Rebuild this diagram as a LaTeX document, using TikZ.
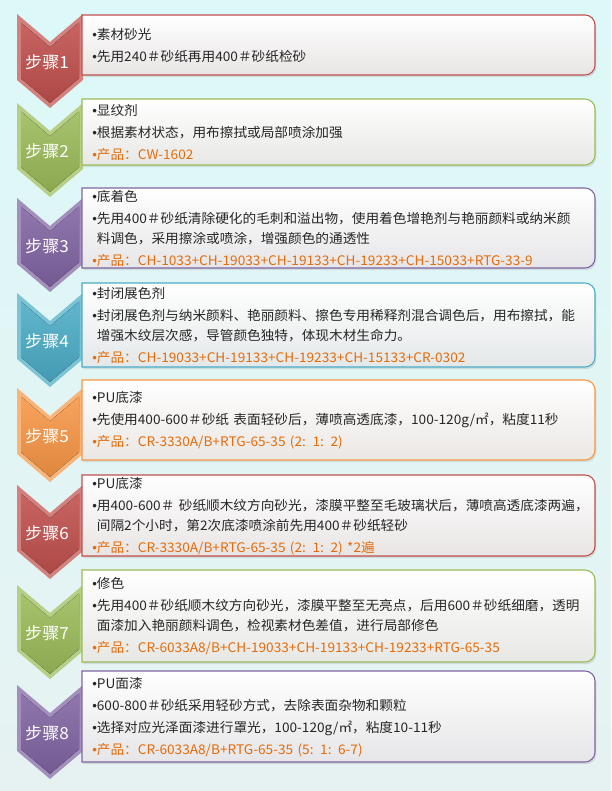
\documentclass[tikz,border=0pt]{standalone}
\usepackage{fontspec}
\setmainfont{Noto Sans CJK SC}[FakeStretch=1.035]
\newfontfamily\bulfont{Liberation Sans}
\usetikzlibrary{shadows}
\definecolor{stepred}{HTML}{C0504D}
\definecolor{stepgreen}{HTML}{9BBB59}
\definecolor{steppurple}{HTML}{8064A2}
\definecolor{stepteal}{HTML}{4BACC6}
\definecolor{steporange}{HTML}{F79646}
\definecolor{prodorange}{HTML}{E46C0A}
\definecolor{textgray}{HTML}{262626}
\definecolor{bgtop}{HTML}{DDF8F8}
\definecolor{bgbot}{HTML}{E6F2F2}
\newcommand{\pxu}{0.75pt}
\newcommand{\bul}{{\bulfont •}}
\newcommand{\chanpin}[1]{{\color{prodorange}\bul 产品：#1}}
\begin{document}
\begin{tikzpicture}[x=0.75pt,y=-0.75pt,
  boxtext/.style={anchor=north west, align=left, inner xsep=10*\pxu, inner ysep=0pt,
    text width=505*\pxu, minimum width=513*\pxu, text=textgray,
    font=\fontsize{9.9pt}{15pt}\selectfont},
  boxline/.style={draw=#1, line width=0.8pt, top color=white, bottom color=#1!4!white!92!black,
    drop shadow={opacity=0.2, shadow xshift=1pt, shadow yshift=-1.6pt}},
  steplabel/.style={text=white, font=\fontsize{12.4pt}{13pt}\selectfont}]
\useasboundingbox (0,0) rectangle (611,791);
\fill[top color=bgtop, bottom color=bgbot] (0,0) rectangle (611,791);
% chevrons
\foreach \n/\col/\t in {1/stepred/14, 2/stepgreen/103, 3/steppurple/198, 4/stepteal/293,
    5/steporange/388, 6/stepred/485, 7/stepgreen/585, 8/steppurple/685} {
  \fill[\col!72!white] (17,\t) -- (50,\t+28) -- (83,\t) -- (83,\t+66) -- (50,\t+94) -- (17,\t+66) -- cycle;
  \fill[top color=\col!88!white, bottom color=\col!90!black] (21,\t+8.6) -- (50,\t+33.2) -- (79,\t+8.6)
    -- (79,\t+64.2) -- (50,\t+88.8) -- (21,\t+64.2) -- cycle;
  \node[steplabel] (step\n) at (47,\t+48) {步骤\n};
}
% boxes
\foreach \col/\t/\h in {stepred/15/60, stepgreen/99/66, steppurple/188/80, stepteal/283/84,
    steporange/380/80, stepred/475/81, stepgreen/570/92, steppurple/671/91}
  \path[boxline=\col] (82,\t) -- (585,\t) .. controls (590.5,\t) and (595,\t+4.5) .. (595,\t+10)
    -- (595,\t+\h-10) .. controls (595,\t+\h-4.5) and (590.5,\t+\h) .. (585,\t+\h) -- (82,\t+\h) -- cycle;
\node[boxtext, minimum height=60*\pxu] (box1) at (82,15) {\bul 素材砂光\\[1.5pt]
  \bul 先用240＃砂纸再用400＃砂纸检砂};
\node[boxtext, minimum height=66*\pxu] (box2) at (82,99) {\bul 显纹剂\\[1.5pt]
  \bul 根据素材状态，用布擦拭或局部喷涂加强\\[1.5pt]
  \chanpin{CW-1602}};
\node[boxtext, minimum height=80*\pxu] (box3) at (82,188) {\bul 底着色\\[1.5pt]
  \bul 先用400＃砂纸清除硬化的毛刺和溢出物，使用着色增艳剂与艳丽颜料或纳米颜\\
  \hphantom{\bul}料调色，采用擦涂或喷涂，增强颜色的通透性\\[1.5pt]
  \chanpin{CH-1033+CH-19033+CH-19133+CH-19233+CH-15033+RTG-33-9}};
\node[boxtext, minimum height=84*\pxu] (box4) at (82,283) {\bul 封闭展色剂\\[1.5pt]
  \bul 封闭展色剂与纳米颜料、艳丽颜料、擦色专用稀释剂混合调色后，用布擦拭，能\\
  \hphantom{\bul}增强木纹层次感，导管颜色独特，体现木材生命力。\\[1.5pt]
  \chanpin{CH-19033+CH-19133+CH-19233+CH-15133+CR-0302}};
\node[boxtext, minimum height=80*\pxu] (box5) at (82,380) {\bul PU底漆\\[1.5pt]
  \bul 先使用400-600＃砂纸 表面轻砂后，薄喷高透底漆，100-120g/㎡，粘度11秒\\[1.5pt]
  \chanpin{CR-3330A/B+RTG-65-35 (2: 1: 2)}};
\node[boxtext, minimum height=81*\pxu] (box6) at (82,475) {\bul PU底漆\\[1.5pt]
  \bul 用400-600＃ 砂纸顺木纹方向砂光，漆膜平整至毛玻璃状后，薄喷高透底漆两遍，\\
  \hphantom{\bul}间隔2个小时，第2次底漆喷涂前先用400＃砂纸轻砂\\[1.5pt]
  \chanpin{CR-3330A/B+RTG-65-35 (2: 1: 2) *2遍}};
\node[boxtext, minimum height=92*\pxu] (box7) at (82,570) {\bul 修色\\[1.5pt]
  \bul 先用400＃砂纸顺木纹方向砂光，漆膜平整至无亮点，后用600＃砂纸细磨，透明\\
  \hphantom{\bul}面漆加入艳丽颜料调色，检视素材色差值，进行局部修色\\[1.5pt]
  \chanpin{CR-6033A8/B+CH-19033+CH-19133+CH-19233+RTG-65-35}};
\node[boxtext, minimum height=91*\pxu] (box8) at (82,671) {\bul PU面漆\\[1.5pt]
  \bul 600-800＃砂纸采用轻砂方式，去除表面杂物和颗粒\\[1.5pt]
  \bul 选择对应光泽面漆进行罩光，100-120g/㎡，粘度10-11秒\\[1.5pt]
  \chanpin{CR-6033A8/B+RTG-65-35 (5: 1: 6-7)}};
\end{tikzpicture}
\end{document}
